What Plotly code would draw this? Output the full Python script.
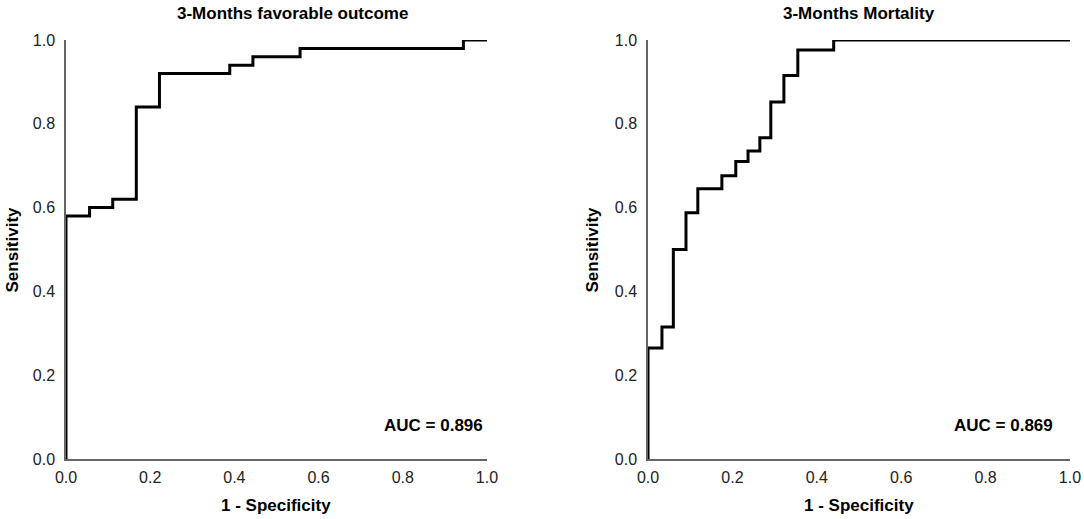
import plotly.graph_objects as go
from plotly.subplots import make_subplots

# ROC step points (1 - specificity, sensitivity)
fav_fpr = [0, 0, 0.056, 0.111, 0.167, 0.222, 0.389, 0.444, 0.556, 0.944, 1.0]
fav_tpr = [0, 0.58, 0.60, 0.62, 0.84, 0.92, 0.94, 0.96, 0.98, 1.0, 1.0]

mort_fpr = [0, 0, 0.033, 0.06, 0.09, 0.118, 0.175, 0.208, 0.237, 0.265, 0.291, 0.322, 0.355, 0.44, 1.0]
mort_tpr = [0, 0.265, 0.315, 0.5, 0.588, 0.645, 0.676, 0.71, 0.735, 0.767, 0.852, 0.915, 0.976, 1.0, 1.0]

titles = ["3-Months favorable outcome", "3-Months Mortality"]
auc_labels = ["AUC = 0.896", "AUC = 0.869"]
tick_vals = [0, 0.2, 0.4, 0.6, 0.8, 1.0]
tick_text = ["0.0", "0.2", "0.4", "0.6", "0.8", "1.0"]

FONT = "Liberation Sans, Arial, sans-serif"

fig = make_subplots(rows=1, cols=2, horizontal_spacing=0.1604)

for col, (fx, fy) in enumerate([(fav_fpr, fav_tpr), (mort_fpr, mort_tpr)], start=1):
    fig.add_trace(go.Scatter(x=fx, y=fy, mode="lines", line=dict(color="black", width=3, shape="hv"),
                             cliponaxis=False, showlegend=False, hoverinfo="skip"), row=1, col=col)

axis_common = dict(range=[0, 1], showgrid=False, zeroline=False, showline=True, automargin=False,
                   linecolor="#666666", linewidth=1.5, ticks="",
                   tickvals=tick_vals, ticktext=tick_text,
                   tickfont=dict(family=FONT, size=16, color="#222222"))
fig.update_xaxes(**axis_common, ticklabelstandoff=3)
fig.update_yaxes(**axis_common, ticklabelstandoff=6)

fig.update_layout(
    width=1084, height=519, autosize=False,
    margin=dict(l=66, r=14, t=40, b=60),
    plot_bgcolor="white", paper_bgcolor="white",
    xaxis=dict(domain=[0, 0.4193]),
    xaxis2=dict(domain=[0.5797, 1]),
)

bold = dict(family=FONT, size=17, color="black")
panel_cfg = [
    ("x", "y", 0.537, -54, 0.995),
    ("x2", "y2", 0.5, -56, 0.964),
]
for i, (xr, yr, tx, ysh, ax) in enumerate(panel_cfg):
    fig.add_annotation(text="<b>%s</b>" % titles[i], xref=xr + " domain", yref=yr + " domain",
                       x=tx, y=1, yshift=27, showarrow=False, font=bold, xanchor="center", yanchor="middle")
    fig.add_annotation(text="<b>Sensitivity</b>", xref=xr + " domain", yref=yr + " domain",
                       x=0, y=0.5, xshift=ysh, textangle=-90, showarrow=False, font=bold,
                       xanchor="center", yanchor="middle")
    fig.add_annotation(text="<b>1 - Specificity</b>", xref=xr + " domain", yref=yr + " domain",
                       x=0.5, y=0, yshift=-46, showarrow=False, font=bold, xanchor="center", yanchor="middle")
    fig.add_annotation(text="<b>%s</b>" % auc_labels[i], xref=xr + " domain", yref=yr + " domain",
                       x=ax, y=0.081, showarrow=False, font=bold, xanchor="right", yanchor="middle")

# drop the default 8px body margin so the figure fills the window
fig.write_html("out.html", config={"displayModeBar": False, "responsive": False},
               post_script="document.body.style.margin='0';document.body.style.overflow='hidden';")
